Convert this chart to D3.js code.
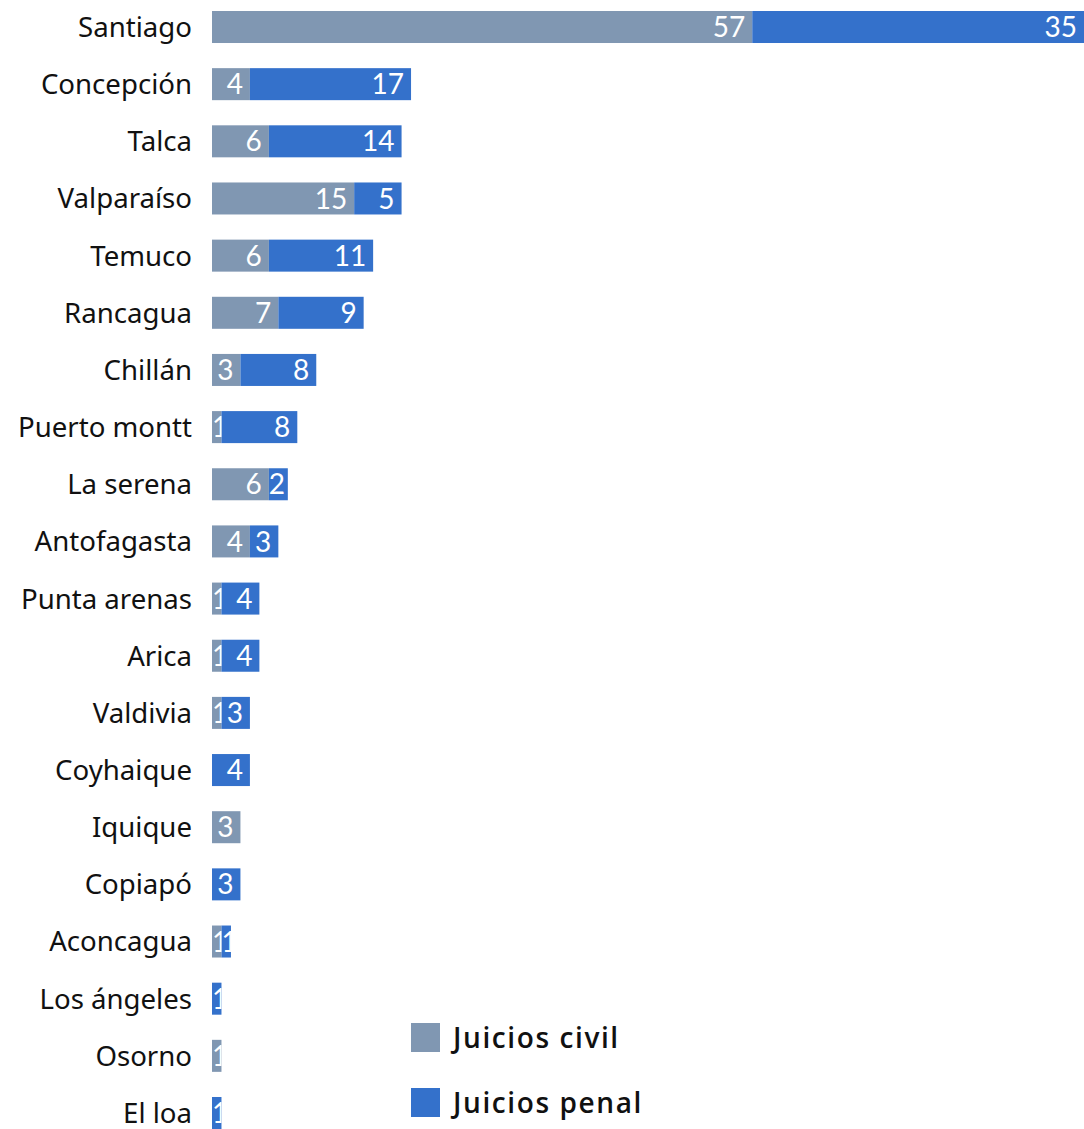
<!DOCTYPE html>
<html>
<head>
<meta charset="utf-8">
<script src="https://cdn.jsdelivr.net/npm/d3@7"></script>
<style>
  html, body { margin: 0; padding: 0; background: #fff; }
  svg { display: block; }
</style>
</head>
<body>
<svg id="chart"></svg>
<script>
const ciudades = ["Santiago", "Concepción", "Talca", "Valparaíso", "Temuco", "Rancagua", "Chillán",
  "Puerto montt", "La serena", "Antofagasta", "Punta arenas", "Arica", "Valdivia", "Coyhaique",
  "Iquique", "Copiapó", "Aconcagua", "Los ángeles", "Osorno", "El loa"];
const civil = [57, 4, 6, 15, 6, 7, 3, 1, 6, 4, 1, 1, 1, 0, 3, 0, 1, 0, 1, 0];
const penal = [35, 17, 14, 5, 11, 9, 8, 8, 2, 3, 4, 4, 3, 4, 0, 3, 1, 1, 0, 1];
const series = ["Juicios civil", "Juicios penal"];
const colors = ["#8097b2", "#3471cb"];

const width = 1084, height = 1129;
const margin = { top: 11, right: 0, bottom: 0, left: 212 };

const rows = ciudades.map((c, i) => ({ ciudad: c, values: [civil[i], penal[i]] }));

const x = d3.scaleLinear()
  .domain([0, d3.max(rows, d => d.values[0] + d.values[1])])
  .range([margin.left, width - margin.right]);

const y = d3.scaleBand()
  .domain(ciudades)
  .range([margin.top, height - margin.bottom])
  .paddingInner(0.44)
  .paddingOuter(0);

const svg = d3.select("#chart").attr("width", width).attr("height", height);
const defs = svg.append("defs");

// category labels
svg.append("g")
  .selectAll("text")
  .data(rows)
  .enter().append("text")
  .attr("x", margin.left - 20)
  .attr("y", d => y(d.ciudad) + y.bandwidth() / 2)
  .attr("dy", "0.36em")
  .attr("text-anchor", "end")
  .attr("font-family", "'Noto Sans', sans-serif")
  .attr("font-size", 27.6)
  .attr("fill", "#111")
  .text(d => d.ciudad);

// stacked segments
const segs = [];
rows.forEach((r, i) => {
  let acc = 0;
  r.values.forEach((v, k) => {
    if (v > 0) segs.push({ ciudad: r.ciudad, k, v, x0: acc, x1: acc + v, id: `seg-${i}-${k}` });
    acc += v;
  });
});

defs.selectAll("clipPath")
  .data(segs)
  .enter().append("clipPath")
  .attr("id", d => d.id)
  .append("rect")
  .attr("x", d => x(d.x0))
  .attr("y", d => y(d.ciudad))
  .attr("width", d => x(d.x1) - x(d.x0))
  .attr("height", y.bandwidth());

const bars = svg.append("g");

bars.selectAll("rect")
  .data(segs)
  .enter().append("rect")
  .attr("x", d => x(d.x0))
  .attr("y", d => y(d.ciudad))
  .attr("width", d => x(d.x1) - x(d.x0))
  .attr("height", y.bandwidth())
  .attr("fill", d => colors[d.k]);

// value labels: right aligned, but never starting before the segment
bars.selectAll("text")
  .data(segs)
  .enter().append("text")
  .attr("clip-path", d => `url(#${d.id})`)
  .attr("y", d => y(d.ciudad) + y.bandwidth() / 2)
  .attr("dy", "0.36em")
  .attr("text-anchor", "end")
  .attr("font-family", "Lato, sans-serif")
  .attr("font-size", 28)
  .attr("fill", "#fff")
  .text(d => d.v)
  .attr("x", function(d) {
    const w = this.getComputedTextLength();
    return Math.max(x(d.x1) - 7, x(d.x0) + w);
  });

// legend
const legend = svg.append("g").attr("transform", "translate(411,1023)");
const item = legend.selectAll("g")
  .data(series)
  .enter().append("g")
  .attr("transform", (d, i) => `translate(0,${i * 65})`);

item.append("rect")
  .attr("width", 29)
  .attr("height", 29)
  .attr("fill", (d, i) => colors[i]);

item.append("text")
  .attr("x", 42)
  .attr("y", 14.5)
  .attr("dy", "0.36em")
  .attr("font-family", "'Open Sans', sans-serif")
  .attr("font-weight", 600)
  .attr("font-size", 28)
  .attr("letter-spacing", 1.6)
  .attr("fill", "#111")
  .text(d => d);
</script>
</body>
</html>
